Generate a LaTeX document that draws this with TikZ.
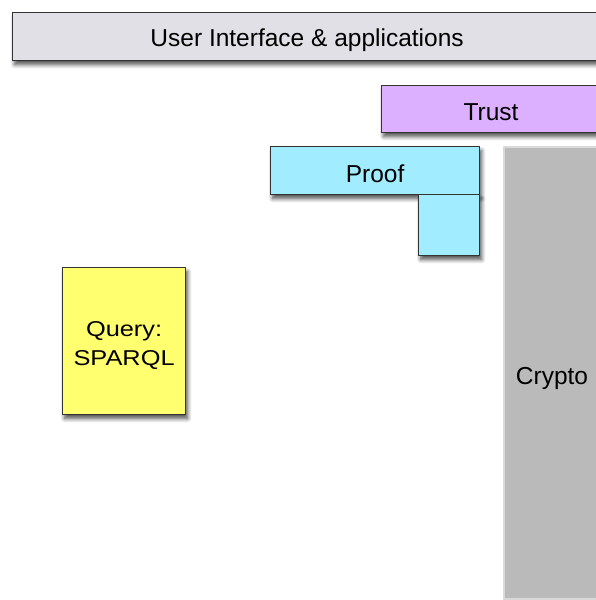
\documentclass[tikz,border=0pt]{standalone}
\usepackage{fontspec}
\setmainfont{Liberation Sans}
\newfontfamily\queryfont[FakeStretch=1.18]{Liberation Sans}
\usepackage{tikz}
\usetikzlibrary{shadows.blur}

\definecolor{uigray}{HTML}{E1E0E6}
\definecolor{trustpurple}{HTML}{DDAFFF}
\definecolor{proofcyan}{HTML}{A2ECFF}
\definecolor{queryyellow}{HTML}{FFFF70}
\definecolor{cryptogray}{HTML}{BABABA}

\begin{document}
\begin{tikzpicture}[x=1pt,y=-1pt,
    layer/.style={draw=black!80,line width=1.2pt,inner sep=0pt,anchor=north west,
        font=\fontsize{24.5}{29}\selectfont,align=center,text height=24pt,
        blur shadow={shadow xshift=2pt,shadow yshift=-4pt,shadow opacity=70,shadow blur radius=4pt,shadow blur steps=8}}]
    \useasboundingbox (0,0) rectangle (595,600);
    % stack of layers, right side runs off the page
    \node[layer,fill=cryptogray,draw=white!85!black,line width=2pt,blur shadow={shadow opacity=0},
        minimum width=100pt,minimum height=452pt] (crypto) at (503,146) {};
    \node (cryptotext) at (552,378) {\fontsize{24.5}{29}\selectfont Crypto};
    \node[layer,fill=uigray,minimum width=589pt,minimum height=48pt] (ui) at (12,12) {User Interface \& applications};
    \node[layer,fill=trustpurple,minimum width=219pt,minimum height=47pt] (trust) at (381,85) {Trust};
    \node[layer,fill=proofcyan,minimum width=209pt,minimum height=48pt] (proof) at (270,146) {Proof};
    % lower leg of proof, drawn on top so it hides the bar's shadow
    \node[layer,fill=proofcyan,minimum width=61pt,minimum height=61pt] (prooftail) at (418,194) {};
    \node[layer,fill=queryyellow,minimum width=123pt,minimum height=147pt,
        font=\queryfont\fontsize{21.5}{29}\selectfont,text height=52pt] (query) at (62,267) {Query:\\SPARQL};
\end{tikzpicture}
\end{document}
